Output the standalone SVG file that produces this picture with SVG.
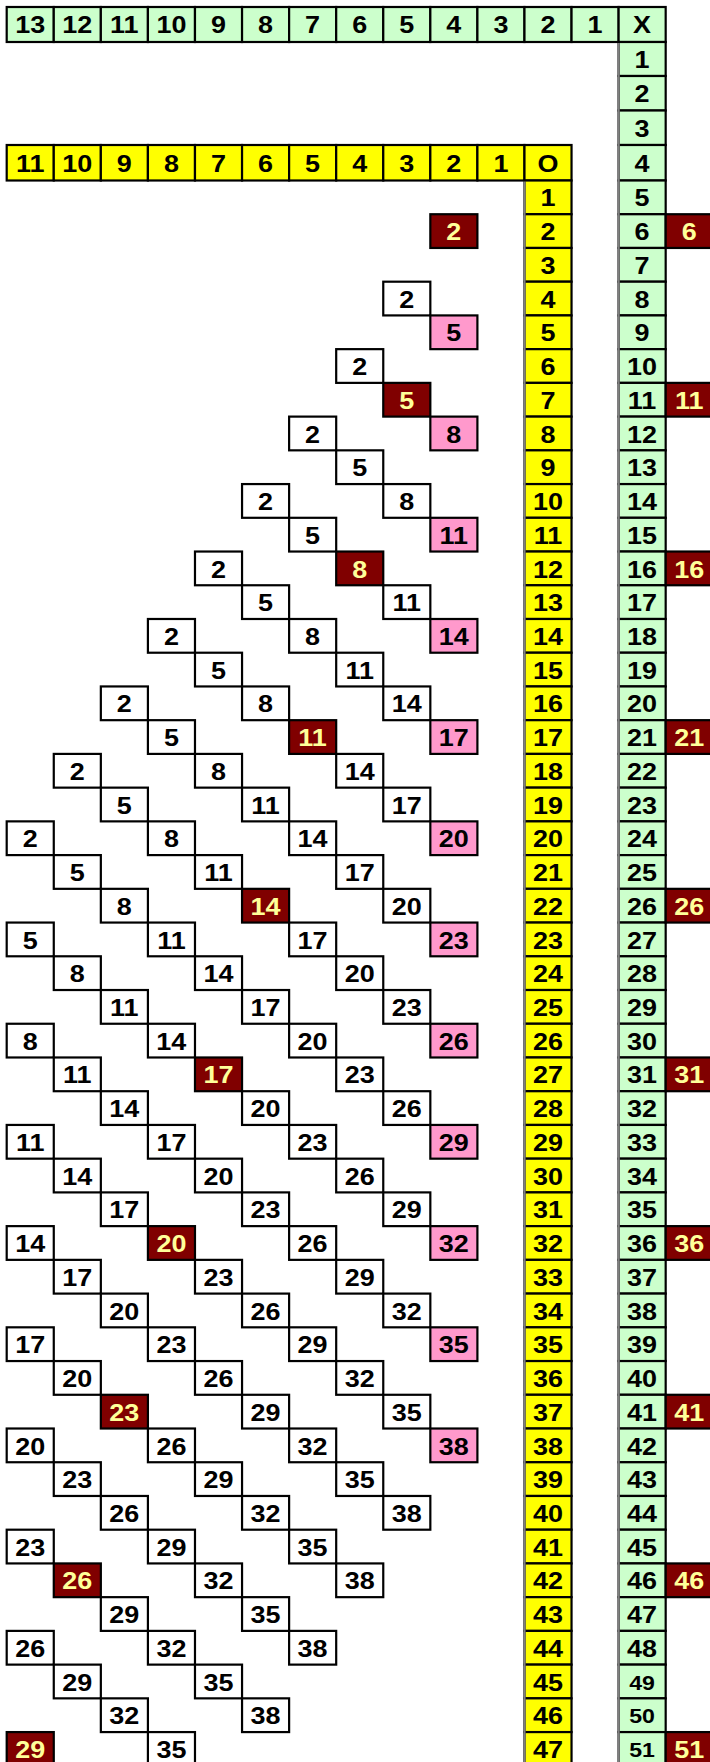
<svg xmlns="http://www.w3.org/2000/svg" width="710" height="1762" viewBox="0 0 710 1762">
<style>
g rect{stroke:#000;stroke-width:2.2}
.g rect{fill:#ccffcc}
.y rect{fill:#ffff00}
.w rect{fill:#ffffff}
.p rect{fill:#ff99cc}
.m rect{fill:#800000}
text{font-family:"Liberation Sans",Arial,sans-serif;font-weight:bold;font-size:24.5px;text-anchor:middle;fill:#000;transform-box:fill-box;transform-origin:center;transform:scaleX(1.1)}
.m text{fill:#ffff99}
.s text{font-size:21px}
.edge{stroke:#808080;stroke-width:2.2;fill:none}
</style>
<!-- green header row -->
<g id="green-header">
<g id="gh13" class="g" transform="translate(6.7,7)"><rect width="47.07" height="35"/><text x="23.5" y="26.4">13</text></g>
<g id="gh12" class="g" transform="translate(53.77,7)"><rect width="47.07" height="35"/><text x="23.5" y="26.4">12</text></g>
<g id="gh11" class="g" transform="translate(100.84,7)"><rect width="47.07" height="35"/><text x="23.5" y="26.4">11</text></g>
<g id="gh10" class="g" transform="translate(147.91,7)"><rect width="47.07" height="35"/><text x="23.5" y="26.4">10</text></g>
<g id="gh9" class="g" transform="translate(194.98,7)"><rect width="47.07" height="35"/><text x="23.5" y="26.4">9</text></g>
<g id="gh8" class="g" transform="translate(242.05,7)"><rect width="47.07" height="35"/><text x="23.5" y="26.4">8</text></g>
<g id="gh7" class="g" transform="translate(289.12,7)"><rect width="47.07" height="35"/><text x="23.5" y="26.4">7</text></g>
<g id="gh6" class="g" transform="translate(336.19,7)"><rect width="47.07" height="35"/><text x="23.5" y="26.4">6</text></g>
<g id="gh5" class="g" transform="translate(383.26,7)"><rect width="47.07" height="35"/><text x="23.5" y="26.4">5</text></g>
<g id="gh4" class="g" transform="translate(430.33,7)"><rect width="47.07" height="35"/><text x="23.5" y="26.4">4</text></g>
<g id="gh3" class="g" transform="translate(477.4,7)"><rect width="47.07" height="35"/><text x="23.5" y="26.4">3</text></g>
<g id="gh2" class="g" transform="translate(524.47,7)"><rect width="47.07" height="35"/><text x="23.5" y="26.4">2</text></g>
<g id="gh1" class="g" transform="translate(571.54,7)"><rect width="47.07" height="35"/><text x="23.5" y="26.4">1</text></g>
<g id="ghX" class="g" transform="translate(618.61,7)"><rect width="47.07" height="35"/><text x="23.5" y="26.4">X</text></g>
</g>
<!-- green column -->
<g id="green-column">
<g id="gx1" class="g" transform="translate(618.61,42)"><rect width="47.07" height="34"/><text x="23.5" y="25.9">1</text></g>
<g id="gx2" class="g" transform="translate(618.61,76)"><rect width="47.07" height="34.5"/><text x="23.5" y="26.1">2</text></g>
<g id="gx3" class="g" transform="translate(618.61,110.5)"><rect width="47.07" height="34.5"/><text x="23.5" y="26.1">3</text></g>
<g id="gx4" class="g" transform="translate(618.61,145)"><rect width="47.07" height="35.5"/><text x="23.5" y="26.6">4</text></g>
<g id="gx5" class="g" transform="translate(618.61,180.5)"><rect width="47.07" height="33.73"/><text x="23.5" y="26">5</text></g>
<g id="gx6" class="g" transform="translate(618.61,214.23)"><rect width="47.07" height="33.73"/><text x="23.5" y="26">6</text></g>
<g id="gx7" class="g" transform="translate(618.61,247.96)"><rect width="47.07" height="33.73"/><text x="23.5" y="26">7</text></g>
<g id="gx8" class="g" transform="translate(618.61,281.69)"><rect width="47.07" height="33.73"/><text x="23.5" y="26">8</text></g>
<g id="gx9" class="g" transform="translate(618.61,315.42)"><rect width="47.07" height="33.73"/><text x="23.5" y="26">9</text></g>
<g id="gx10" class="g" transform="translate(618.61,349.15)"><rect width="47.07" height="33.73"/><text x="23.5" y="26">10</text></g>
<g id="gx11" class="g" transform="translate(618.61,382.88)"><rect width="47.07" height="33.73"/><text x="23.5" y="26">11</text></g>
<g id="gx12" class="g" transform="translate(618.61,416.61)"><rect width="47.07" height="33.73"/><text x="23.5" y="26">12</text></g>
<g id="gx13" class="g" transform="translate(618.61,450.34)"><rect width="47.07" height="33.73"/><text x="23.5" y="26">13</text></g>
<g id="gx14" class="g" transform="translate(618.61,484.07)"><rect width="47.07" height="33.73"/><text x="23.5" y="26">14</text></g>
<g id="gx15" class="g" transform="translate(618.61,517.8)"><rect width="47.07" height="33.73"/><text x="23.5" y="26">15</text></g>
<g id="gx16" class="g" transform="translate(618.61,551.53)"><rect width="47.07" height="33.73"/><text x="23.5" y="26">16</text></g>
<g id="gx17" class="g" transform="translate(618.61,585.26)"><rect width="47.07" height="33.73"/><text x="23.5" y="26">17</text></g>
<g id="gx18" class="g" transform="translate(618.61,618.99)"><rect width="47.07" height="33.73"/><text x="23.5" y="26">18</text></g>
<g id="gx19" class="g" transform="translate(618.61,652.72)"><rect width="47.07" height="33.73"/><text x="23.5" y="26">19</text></g>
<g id="gx20" class="g" transform="translate(618.61,686.45)"><rect width="47.07" height="33.73"/><text x="23.5" y="26">20</text></g>
<g id="gx21" class="g" transform="translate(618.61,720.18)"><rect width="47.07" height="33.73"/><text x="23.5" y="26">21</text></g>
<g id="gx22" class="g" transform="translate(618.61,753.91)"><rect width="47.07" height="33.73"/><text x="23.5" y="26">22</text></g>
<g id="gx23" class="g" transform="translate(618.61,787.64)"><rect width="47.07" height="33.73"/><text x="23.5" y="26">23</text></g>
<g id="gx24" class="g" transform="translate(618.61,821.37)"><rect width="47.07" height="33.73"/><text x="23.5" y="26">24</text></g>
<g id="gx25" class="g" transform="translate(618.61,855.1)"><rect width="47.07" height="33.73"/><text x="23.5" y="26">25</text></g>
<g id="gx26" class="g" transform="translate(618.61,888.83)"><rect width="47.07" height="33.73"/><text x="23.5" y="26">26</text></g>
<g id="gx27" class="g" transform="translate(618.61,922.56)"><rect width="47.07" height="33.73"/><text x="23.5" y="26">27</text></g>
<g id="gx28" class="g" transform="translate(618.61,956.29)"><rect width="47.07" height="33.73"/><text x="23.5" y="26">28</text></g>
<g id="gx29" class="g" transform="translate(618.61,990.02)"><rect width="47.07" height="33.73"/><text x="23.5" y="26">29</text></g>
<g id="gx30" class="g" transform="translate(618.61,1023.75)"><rect width="47.07" height="33.73"/><text x="23.5" y="26">30</text></g>
<g id="gx31" class="g" transform="translate(618.61,1057.48)"><rect width="47.07" height="33.73"/><text x="23.5" y="26">31</text></g>
<g id="gx32" class="g" transform="translate(618.61,1091.21)"><rect width="47.07" height="33.73"/><text x="23.5" y="26">32</text></g>
<g id="gx33" class="g" transform="translate(618.61,1124.94)"><rect width="47.07" height="33.73"/><text x="23.5" y="26">33</text></g>
<g id="gx34" class="g" transform="translate(618.61,1158.67)"><rect width="47.07" height="33.73"/><text x="23.5" y="26">34</text></g>
<g id="gx35" class="g" transform="translate(618.61,1192.4)"><rect width="47.07" height="33.73"/><text x="23.5" y="26">35</text></g>
<g id="gx36" class="g" transform="translate(618.61,1226.13)"><rect width="47.07" height="33.73"/><text x="23.5" y="26">36</text></g>
<g id="gx37" class="g" transform="translate(618.61,1259.86)"><rect width="47.07" height="33.73"/><text x="23.5" y="26">37</text></g>
<g id="gx38" class="g" transform="translate(618.61,1293.59)"><rect width="47.07" height="33.73"/><text x="23.5" y="26">38</text></g>
<g id="gx39" class="g" transform="translate(618.61,1327.32)"><rect width="47.07" height="33.73"/><text x="23.5" y="26">39</text></g>
<g id="gx40" class="g" transform="translate(618.61,1361.05)"><rect width="47.07" height="33.73"/><text x="23.5" y="26">40</text></g>
<g id="gx41" class="g" transform="translate(618.61,1394.78)"><rect width="47.07" height="33.73"/><text x="23.5" y="26">41</text></g>
<g id="gx42" class="g" transform="translate(618.61,1428.51)"><rect width="47.07" height="33.73"/><text x="23.5" y="26">42</text></g>
<g id="gx43" class="g" transform="translate(618.61,1462.24)"><rect width="47.07" height="33.73"/><text x="23.5" y="26">43</text></g>
<g id="gx44" class="g" transform="translate(618.61,1495.97)"><rect width="47.07" height="33.73"/><text x="23.5" y="26">44</text></g>
<g id="gx45" class="g" transform="translate(618.61,1529.7)"><rect width="47.07" height="33.73"/><text x="23.5" y="26">45</text></g>
<g id="gx46" class="g" transform="translate(618.61,1563.43)"><rect width="47.07" height="33.73"/><text x="23.5" y="26">46</text></g>
<g id="gx47" class="g" transform="translate(618.61,1597.16)"><rect width="47.07" height="33.73"/><text x="23.5" y="26">47</text></g>
<g id="gx48" class="g" transform="translate(618.61,1630.89)"><rect width="47.07" height="33.73"/><text x="23.5" y="26">48</text></g>
<g id="gx49" class="g s" transform="translate(618.61,1664.62)"><rect width="47.07" height="33.73"/><text x="23.5" y="25">49</text></g>
<g id="gx50" class="g s" transform="translate(618.61,1698.35)"><rect width="47.07" height="33.73"/><text x="23.5" y="25">50</text></g>
<g id="gx51" class="g s" transform="translate(618.61,1732.08)"><rect width="47.07" height="33.73"/><text x="23.5" y="25">51</text></g>
</g>
<!-- right maroon column -->
<g id="right-column">
<g id="r6" class="m" transform="translate(665.68,214.23)"><rect width="47.07" height="33.73"/><text x="23.5" y="26">6</text></g>
<g id="r11" class="m" transform="translate(665.68,382.88)"><rect width="47.07" height="33.73"/><text x="23.5" y="26">11</text></g>
<g id="r16" class="m" transform="translate(665.68,551.53)"><rect width="47.07" height="33.73"/><text x="23.5" y="26">16</text></g>
<g id="r21" class="m" transform="translate(665.68,720.18)"><rect width="47.07" height="33.73"/><text x="23.5" y="26">21</text></g>
<g id="r26" class="m" transform="translate(665.68,888.83)"><rect width="47.07" height="33.73"/><text x="23.5" y="26">26</text></g>
<g id="r31" class="m" transform="translate(665.68,1057.48)"><rect width="47.07" height="33.73"/><text x="23.5" y="26">31</text></g>
<g id="r36" class="m" transform="translate(665.68,1226.13)"><rect width="47.07" height="33.73"/><text x="23.5" y="26">36</text></g>
<g id="r41" class="m" transform="translate(665.68,1394.78)"><rect width="47.07" height="33.73"/><text x="23.5" y="26">41</text></g>
<g id="r46" class="m" transform="translate(665.68,1563.43)"><rect width="47.07" height="33.73"/><text x="23.5" y="26">46</text></g>
<g id="r51" class="m" transform="translate(665.68,1732.08)"><rect width="47.07" height="33.73"/><text x="23.5" y="26">51</text></g>
</g>
<!-- yellow header row -->
<g id="yellow-header">
<g id="yh11" class="y" transform="translate(6.7,145)"><rect width="47.07" height="35.5"/><text x="23.5" y="26.6">11</text></g>
<g id="yh10" class="y" transform="translate(53.77,145)"><rect width="47.07" height="35.5"/><text x="23.5" y="26.6">10</text></g>
<g id="yh9" class="y" transform="translate(100.84,145)"><rect width="47.07" height="35.5"/><text x="23.5" y="26.6">9</text></g>
<g id="yh8" class="y" transform="translate(147.91,145)"><rect width="47.07" height="35.5"/><text x="23.5" y="26.6">8</text></g>
<g id="yh7" class="y" transform="translate(194.98,145)"><rect width="47.07" height="35.5"/><text x="23.5" y="26.6">7</text></g>
<g id="yh6" class="y" transform="translate(242.05,145)"><rect width="47.07" height="35.5"/><text x="23.5" y="26.6">6</text></g>
<g id="yh5" class="y" transform="translate(289.12,145)"><rect width="47.07" height="35.5"/><text x="23.5" y="26.6">5</text></g>
<g id="yh4" class="y" transform="translate(336.19,145)"><rect width="47.07" height="35.5"/><text x="23.5" y="26.6">4</text></g>
<g id="yh3" class="y" transform="translate(383.26,145)"><rect width="47.07" height="35.5"/><text x="23.5" y="26.6">3</text></g>
<g id="yh2" class="y" transform="translate(430.33,145)"><rect width="47.07" height="35.5"/><text x="23.5" y="26.6">2</text></g>
<g id="yh1" class="y" transform="translate(477.4,145)"><rect width="47.07" height="35.5"/><text x="23.5" y="26.6">1</text></g>
<g id="yhO" class="y" transform="translate(524.47,145)"><rect width="47.07" height="35.5"/><text x="23.5" y="26.6">O</text></g>
</g>
<!-- yellow column -->
<g id="yellow-column">
<g id="yo1" class="y" transform="translate(524.47,180.5)"><rect width="47.07" height="33.73"/><text x="23.5" y="26">1</text></g>
<g id="yo2" class="y" transform="translate(524.47,214.23)"><rect width="47.07" height="33.73"/><text x="23.5" y="26">2</text></g>
<g id="yo3" class="y" transform="translate(524.47,247.96)"><rect width="47.07" height="33.73"/><text x="23.5" y="26">3</text></g>
<g id="yo4" class="y" transform="translate(524.47,281.69)"><rect width="47.07" height="33.73"/><text x="23.5" y="26">4</text></g>
<g id="yo5" class="y" transform="translate(524.47,315.42)"><rect width="47.07" height="33.73"/><text x="23.5" y="26">5</text></g>
<g id="yo6" class="y" transform="translate(524.47,349.15)"><rect width="47.07" height="33.73"/><text x="23.5" y="26">6</text></g>
<g id="yo7" class="y" transform="translate(524.47,382.88)"><rect width="47.07" height="33.73"/><text x="23.5" y="26">7</text></g>
<g id="yo8" class="y" transform="translate(524.47,416.61)"><rect width="47.07" height="33.73"/><text x="23.5" y="26">8</text></g>
<g id="yo9" class="y" transform="translate(524.47,450.34)"><rect width="47.07" height="33.73"/><text x="23.5" y="26">9</text></g>
<g id="yo10" class="y" transform="translate(524.47,484.07)"><rect width="47.07" height="33.73"/><text x="23.5" y="26">10</text></g>
<g id="yo11" class="y" transform="translate(524.47,517.8)"><rect width="47.07" height="33.73"/><text x="23.5" y="26">11</text></g>
<g id="yo12" class="y" transform="translate(524.47,551.53)"><rect width="47.07" height="33.73"/><text x="23.5" y="26">12</text></g>
<g id="yo13" class="y" transform="translate(524.47,585.26)"><rect width="47.07" height="33.73"/><text x="23.5" y="26">13</text></g>
<g id="yo14" class="y" transform="translate(524.47,618.99)"><rect width="47.07" height="33.73"/><text x="23.5" y="26">14</text></g>
<g id="yo15" class="y" transform="translate(524.47,652.72)"><rect width="47.07" height="33.73"/><text x="23.5" y="26">15</text></g>
<g id="yo16" class="y" transform="translate(524.47,686.45)"><rect width="47.07" height="33.73"/><text x="23.5" y="26">16</text></g>
<g id="yo17" class="y" transform="translate(524.47,720.18)"><rect width="47.07" height="33.73"/><text x="23.5" y="26">17</text></g>
<g id="yo18" class="y" transform="translate(524.47,753.91)"><rect width="47.07" height="33.73"/><text x="23.5" y="26">18</text></g>
<g id="yo19" class="y" transform="translate(524.47,787.64)"><rect width="47.07" height="33.73"/><text x="23.5" y="26">19</text></g>
<g id="yo20" class="y" transform="translate(524.47,821.37)"><rect width="47.07" height="33.73"/><text x="23.5" y="26">20</text></g>
<g id="yo21" class="y" transform="translate(524.47,855.1)"><rect width="47.07" height="33.73"/><text x="23.5" y="26">21</text></g>
<g id="yo22" class="y" transform="translate(524.47,888.83)"><rect width="47.07" height="33.73"/><text x="23.5" y="26">22</text></g>
<g id="yo23" class="y" transform="translate(524.47,922.56)"><rect width="47.07" height="33.73"/><text x="23.5" y="26">23</text></g>
<g id="yo24" class="y" transform="translate(524.47,956.29)"><rect width="47.07" height="33.73"/><text x="23.5" y="26">24</text></g>
<g id="yo25" class="y" transform="translate(524.47,990.02)"><rect width="47.07" height="33.73"/><text x="23.5" y="26">25</text></g>
<g id="yo26" class="y" transform="translate(524.47,1023.75)"><rect width="47.07" height="33.73"/><text x="23.5" y="26">26</text></g>
<g id="yo27" class="y" transform="translate(524.47,1057.48)"><rect width="47.07" height="33.73"/><text x="23.5" y="26">27</text></g>
<g id="yo28" class="y" transform="translate(524.47,1091.21)"><rect width="47.07" height="33.73"/><text x="23.5" y="26">28</text></g>
<g id="yo29" class="y" transform="translate(524.47,1124.94)"><rect width="47.07" height="33.73"/><text x="23.5" y="26">29</text></g>
<g id="yo30" class="y" transform="translate(524.47,1158.67)"><rect width="47.07" height="33.73"/><text x="23.5" y="26">30</text></g>
<g id="yo31" class="y" transform="translate(524.47,1192.4)"><rect width="47.07" height="33.73"/><text x="23.5" y="26">31</text></g>
<g id="yo32" class="y" transform="translate(524.47,1226.13)"><rect width="47.07" height="33.73"/><text x="23.5" y="26">32</text></g>
<g id="yo33" class="y" transform="translate(524.47,1259.86)"><rect width="47.07" height="33.73"/><text x="23.5" y="26">33</text></g>
<g id="yo34" class="y" transform="translate(524.47,1293.59)"><rect width="47.07" height="33.73"/><text x="23.5" y="26">34</text></g>
<g id="yo35" class="y" transform="translate(524.47,1327.32)"><rect width="47.07" height="33.73"/><text x="23.5" y="26">35</text></g>
<g id="yo36" class="y" transform="translate(524.47,1361.05)"><rect width="47.07" height="33.73"/><text x="23.5" y="26">36</text></g>
<g id="yo37" class="y" transform="translate(524.47,1394.78)"><rect width="47.07" height="33.73"/><text x="23.5" y="26">37</text></g>
<g id="yo38" class="y" transform="translate(524.47,1428.51)"><rect width="47.07" height="33.73"/><text x="23.5" y="26">38</text></g>
<g id="yo39" class="y" transform="translate(524.47,1462.24)"><rect width="47.07" height="33.73"/><text x="23.5" y="26">39</text></g>
<g id="yo40" class="y" transform="translate(524.47,1495.97)"><rect width="47.07" height="33.73"/><text x="23.5" y="26">40</text></g>
<g id="yo41" class="y" transform="translate(524.47,1529.7)"><rect width="47.07" height="33.73"/><text x="23.5" y="26">41</text></g>
<g id="yo42" class="y" transform="translate(524.47,1563.43)"><rect width="47.07" height="33.73"/><text x="23.5" y="26">42</text></g>
<g id="yo43" class="y" transform="translate(524.47,1597.16)"><rect width="47.07" height="33.73"/><text x="23.5" y="26">43</text></g>
<g id="yo44" class="y" transform="translate(524.47,1630.89)"><rect width="47.07" height="33.73"/><text x="23.5" y="26">44</text></g>
<g id="yo45" class="y" transform="translate(524.47,1664.62)"><rect width="47.07" height="33.73"/><text x="23.5" y="26">45</text></g>
<g id="yo46" class="y" transform="translate(524.47,1698.35)"><rect width="47.07" height="33.73"/><text x="23.5" y="26">46</text></g>
<g id="yo47" class="y" transform="translate(524.47,1732.08)"><rect width="47.07" height="33.73"/><text x="23.5" y="26">47</text></g>
</g>
<!-- column left shading -->
<g id="edges">
<line class="edge" x1="524.47" y1="181.6" x2="524.47" y2="1762"/>
<line class="edge" x1="618.61" y1="43.1" x2="618.61" y2="1762"/>
</g>
<!-- staircase cells -->
<g id="staircase">
<g id="s2-9" class="m" transform="translate(430.33,214.23)"><rect width="47.07" height="33.73"/><text x="23.5" y="26">2</text></g>
<g id="s4-8" class="w" transform="translate(383.26,281.69)"><rect width="47.07" height="33.73"/><text x="23.5" y="26">2</text></g>
<g id="s5-9" class="p" transform="translate(430.33,315.42)"><rect width="47.07" height="33.73"/><text x="23.5" y="26">5</text></g>
<g id="s6-7" class="w" transform="translate(336.19,349.15)"><rect width="47.07" height="33.73"/><text x="23.5" y="26">2</text></g>
<g id="s7-8" class="m" transform="translate(383.26,382.88)"><rect width="47.07" height="33.73"/><text x="23.5" y="26">5</text></g>
<g id="s8-6" class="w" transform="translate(289.12,416.61)"><rect width="47.07" height="33.73"/><text x="23.5" y="26">2</text></g>
<g id="s8-9" class="p" transform="translate(430.33,416.61)"><rect width="47.07" height="33.73"/><text x="23.5" y="26">8</text></g>
<g id="s9-7" class="w" transform="translate(336.19,450.34)"><rect width="47.07" height="33.73"/><text x="23.5" y="26">5</text></g>
<g id="s10-5" class="w" transform="translate(242.05,484.07)"><rect width="47.07" height="33.73"/><text x="23.5" y="26">2</text></g>
<g id="s10-8" class="w" transform="translate(383.26,484.07)"><rect width="47.07" height="33.73"/><text x="23.5" y="26">8</text></g>
<g id="s11-6" class="w" transform="translate(289.12,517.8)"><rect width="47.07" height="33.73"/><text x="23.5" y="26">5</text></g>
<g id="s11-9" class="p" transform="translate(430.33,517.8)"><rect width="47.07" height="33.73"/><text x="23.5" y="26">11</text></g>
<g id="s12-4" class="w" transform="translate(194.98,551.53)"><rect width="47.07" height="33.73"/><text x="23.5" y="26">2</text></g>
<g id="s12-7" class="m" transform="translate(336.19,551.53)"><rect width="47.07" height="33.73"/><text x="23.5" y="26">8</text></g>
<g id="s13-5" class="w" transform="translate(242.05,585.26)"><rect width="47.07" height="33.73"/><text x="23.5" y="26">5</text></g>
<g id="s13-8" class="w" transform="translate(383.26,585.26)"><rect width="47.07" height="33.73"/><text x="23.5" y="26">11</text></g>
<g id="s14-3" class="w" transform="translate(147.91,618.99)"><rect width="47.07" height="33.73"/><text x="23.5" y="26">2</text></g>
<g id="s14-6" class="w" transform="translate(289.12,618.99)"><rect width="47.07" height="33.73"/><text x="23.5" y="26">8</text></g>
<g id="s14-9" class="p" transform="translate(430.33,618.99)"><rect width="47.07" height="33.73"/><text x="23.5" y="26">14</text></g>
<g id="s15-4" class="w" transform="translate(194.98,652.72)"><rect width="47.07" height="33.73"/><text x="23.5" y="26">5</text></g>
<g id="s15-7" class="w" transform="translate(336.19,652.72)"><rect width="47.07" height="33.73"/><text x="23.5" y="26">11</text></g>
<g id="s16-2" class="w" transform="translate(100.84,686.45)"><rect width="47.07" height="33.73"/><text x="23.5" y="26">2</text></g>
<g id="s16-5" class="w" transform="translate(242.05,686.45)"><rect width="47.07" height="33.73"/><text x="23.5" y="26">8</text></g>
<g id="s16-8" class="w" transform="translate(383.26,686.45)"><rect width="47.07" height="33.73"/><text x="23.5" y="26">14</text></g>
<g id="s17-3" class="w" transform="translate(147.91,720.18)"><rect width="47.07" height="33.73"/><text x="23.5" y="26">5</text></g>
<g id="s17-6" class="m" transform="translate(289.12,720.18)"><rect width="47.07" height="33.73"/><text x="23.5" y="26">11</text></g>
<g id="s17-9" class="p" transform="translate(430.33,720.18)"><rect width="47.07" height="33.73"/><text x="23.5" y="26">17</text></g>
<g id="s18-1" class="w" transform="translate(53.77,753.91)"><rect width="47.07" height="33.73"/><text x="23.5" y="26">2</text></g>
<g id="s18-4" class="w" transform="translate(194.98,753.91)"><rect width="47.07" height="33.73"/><text x="23.5" y="26">8</text></g>
<g id="s18-7" class="w" transform="translate(336.19,753.91)"><rect width="47.07" height="33.73"/><text x="23.5" y="26">14</text></g>
<g id="s19-2" class="w" transform="translate(100.84,787.64)"><rect width="47.07" height="33.73"/><text x="23.5" y="26">5</text></g>
<g id="s19-5" class="w" transform="translate(242.05,787.64)"><rect width="47.07" height="33.73"/><text x="23.5" y="26">11</text></g>
<g id="s19-8" class="w" transform="translate(383.26,787.64)"><rect width="47.07" height="33.73"/><text x="23.5" y="26">17</text></g>
<g id="s20-0" class="w" transform="translate(6.7,821.37)"><rect width="47.07" height="33.73"/><text x="23.5" y="26">2</text></g>
<g id="s20-3" class="w" transform="translate(147.91,821.37)"><rect width="47.07" height="33.73"/><text x="23.5" y="26">8</text></g>
<g id="s20-6" class="w" transform="translate(289.12,821.37)"><rect width="47.07" height="33.73"/><text x="23.5" y="26">14</text></g>
<g id="s20-9" class="p" transform="translate(430.33,821.37)"><rect width="47.07" height="33.73"/><text x="23.5" y="26">20</text></g>
<g id="s21-1" class="w" transform="translate(53.77,855.1)"><rect width="47.07" height="33.73"/><text x="23.5" y="26">5</text></g>
<g id="s21-4" class="w" transform="translate(194.98,855.1)"><rect width="47.07" height="33.73"/><text x="23.5" y="26">11</text></g>
<g id="s21-7" class="w" transform="translate(336.19,855.1)"><rect width="47.07" height="33.73"/><text x="23.5" y="26">17</text></g>
<g id="s22-2" class="w" transform="translate(100.84,888.83)"><rect width="47.07" height="33.73"/><text x="23.5" y="26">8</text></g>
<g id="s22-5" class="m" transform="translate(242.05,888.83)"><rect width="47.07" height="33.73"/><text x="23.5" y="26">14</text></g>
<g id="s22-8" class="w" transform="translate(383.26,888.83)"><rect width="47.07" height="33.73"/><text x="23.5" y="26">20</text></g>
<g id="s23-0" class="w" transform="translate(6.7,922.56)"><rect width="47.07" height="33.73"/><text x="23.5" y="26">5</text></g>
<g id="s23-3" class="w" transform="translate(147.91,922.56)"><rect width="47.07" height="33.73"/><text x="23.5" y="26">11</text></g>
<g id="s23-6" class="w" transform="translate(289.12,922.56)"><rect width="47.07" height="33.73"/><text x="23.5" y="26">17</text></g>
<g id="s23-9" class="p" transform="translate(430.33,922.56)"><rect width="47.07" height="33.73"/><text x="23.5" y="26">23</text></g>
<g id="s24-1" class="w" transform="translate(53.77,956.29)"><rect width="47.07" height="33.73"/><text x="23.5" y="26">8</text></g>
<g id="s24-4" class="w" transform="translate(194.98,956.29)"><rect width="47.07" height="33.73"/><text x="23.5" y="26">14</text></g>
<g id="s24-7" class="w" transform="translate(336.19,956.29)"><rect width="47.07" height="33.73"/><text x="23.5" y="26">20</text></g>
<g id="s25-2" class="w" transform="translate(100.84,990.02)"><rect width="47.07" height="33.73"/><text x="23.5" y="26">11</text></g>
<g id="s25-5" class="w" transform="translate(242.05,990.02)"><rect width="47.07" height="33.73"/><text x="23.5" y="26">17</text></g>
<g id="s25-8" class="w" transform="translate(383.26,990.02)"><rect width="47.07" height="33.73"/><text x="23.5" y="26">23</text></g>
<g id="s26-0" class="w" transform="translate(6.7,1023.75)"><rect width="47.07" height="33.73"/><text x="23.5" y="26">8</text></g>
<g id="s26-3" class="w" transform="translate(147.91,1023.75)"><rect width="47.07" height="33.73"/><text x="23.5" y="26">14</text></g>
<g id="s26-6" class="w" transform="translate(289.12,1023.75)"><rect width="47.07" height="33.73"/><text x="23.5" y="26">20</text></g>
<g id="s26-9" class="p" transform="translate(430.33,1023.75)"><rect width="47.07" height="33.73"/><text x="23.5" y="26">26</text></g>
<g id="s27-1" class="w" transform="translate(53.77,1057.48)"><rect width="47.07" height="33.73"/><text x="23.5" y="26">11</text></g>
<g id="s27-4" class="m" transform="translate(194.98,1057.48)"><rect width="47.07" height="33.73"/><text x="23.5" y="26">17</text></g>
<g id="s27-7" class="w" transform="translate(336.19,1057.48)"><rect width="47.07" height="33.73"/><text x="23.5" y="26">23</text></g>
<g id="s28-2" class="w" transform="translate(100.84,1091.21)"><rect width="47.07" height="33.73"/><text x="23.5" y="26">14</text></g>
<g id="s28-5" class="w" transform="translate(242.05,1091.21)"><rect width="47.07" height="33.73"/><text x="23.5" y="26">20</text></g>
<g id="s28-8" class="w" transform="translate(383.26,1091.21)"><rect width="47.07" height="33.73"/><text x="23.5" y="26">26</text></g>
<g id="s29-0" class="w" transform="translate(6.7,1124.94)"><rect width="47.07" height="33.73"/><text x="23.5" y="26">11</text></g>
<g id="s29-3" class="w" transform="translate(147.91,1124.94)"><rect width="47.07" height="33.73"/><text x="23.5" y="26">17</text></g>
<g id="s29-6" class="w" transform="translate(289.12,1124.94)"><rect width="47.07" height="33.73"/><text x="23.5" y="26">23</text></g>
<g id="s29-9" class="p" transform="translate(430.33,1124.94)"><rect width="47.07" height="33.73"/><text x="23.5" y="26">29</text></g>
<g id="s30-1" class="w" transform="translate(53.77,1158.67)"><rect width="47.07" height="33.73"/><text x="23.5" y="26">14</text></g>
<g id="s30-4" class="w" transform="translate(194.98,1158.67)"><rect width="47.07" height="33.73"/><text x="23.5" y="26">20</text></g>
<g id="s30-7" class="w" transform="translate(336.19,1158.67)"><rect width="47.07" height="33.73"/><text x="23.5" y="26">26</text></g>
<g id="s31-2" class="w" transform="translate(100.84,1192.4)"><rect width="47.07" height="33.73"/><text x="23.5" y="26">17</text></g>
<g id="s31-5" class="w" transform="translate(242.05,1192.4)"><rect width="47.07" height="33.73"/><text x="23.5" y="26">23</text></g>
<g id="s31-8" class="w" transform="translate(383.26,1192.4)"><rect width="47.07" height="33.73"/><text x="23.5" y="26">29</text></g>
<g id="s32-0" class="w" transform="translate(6.7,1226.13)"><rect width="47.07" height="33.73"/><text x="23.5" y="26">14</text></g>
<g id="s32-3" class="m" transform="translate(147.91,1226.13)"><rect width="47.07" height="33.73"/><text x="23.5" y="26">20</text></g>
<g id="s32-6" class="w" transform="translate(289.12,1226.13)"><rect width="47.07" height="33.73"/><text x="23.5" y="26">26</text></g>
<g id="s32-9" class="p" transform="translate(430.33,1226.13)"><rect width="47.07" height="33.73"/><text x="23.5" y="26">32</text></g>
<g id="s33-1" class="w" transform="translate(53.77,1259.86)"><rect width="47.07" height="33.73"/><text x="23.5" y="26">17</text></g>
<g id="s33-4" class="w" transform="translate(194.98,1259.86)"><rect width="47.07" height="33.73"/><text x="23.5" y="26">23</text></g>
<g id="s33-7" class="w" transform="translate(336.19,1259.86)"><rect width="47.07" height="33.73"/><text x="23.5" y="26">29</text></g>
<g id="s34-2" class="w" transform="translate(100.84,1293.59)"><rect width="47.07" height="33.73"/><text x="23.5" y="26">20</text></g>
<g id="s34-5" class="w" transform="translate(242.05,1293.59)"><rect width="47.07" height="33.73"/><text x="23.5" y="26">26</text></g>
<g id="s34-8" class="w" transform="translate(383.26,1293.59)"><rect width="47.07" height="33.73"/><text x="23.5" y="26">32</text></g>
<g id="s35-0" class="w" transform="translate(6.7,1327.32)"><rect width="47.07" height="33.73"/><text x="23.5" y="26">17</text></g>
<g id="s35-3" class="w" transform="translate(147.91,1327.32)"><rect width="47.07" height="33.73"/><text x="23.5" y="26">23</text></g>
<g id="s35-6" class="w" transform="translate(289.12,1327.32)"><rect width="47.07" height="33.73"/><text x="23.5" y="26">29</text></g>
<g id="s35-9" class="p" transform="translate(430.33,1327.32)"><rect width="47.07" height="33.73"/><text x="23.5" y="26">35</text></g>
<g id="s36-1" class="w" transform="translate(53.77,1361.05)"><rect width="47.07" height="33.73"/><text x="23.5" y="26">20</text></g>
<g id="s36-4" class="w" transform="translate(194.98,1361.05)"><rect width="47.07" height="33.73"/><text x="23.5" y="26">26</text></g>
<g id="s36-7" class="w" transform="translate(336.19,1361.05)"><rect width="47.07" height="33.73"/><text x="23.5" y="26">32</text></g>
<g id="s37-2" class="m" transform="translate(100.84,1394.78)"><rect width="47.07" height="33.73"/><text x="23.5" y="26">23</text></g>
<g id="s37-5" class="w" transform="translate(242.05,1394.78)"><rect width="47.07" height="33.73"/><text x="23.5" y="26">29</text></g>
<g id="s37-8" class="w" transform="translate(383.26,1394.78)"><rect width="47.07" height="33.73"/><text x="23.5" y="26">35</text></g>
<g id="s38-0" class="w" transform="translate(6.7,1428.51)"><rect width="47.07" height="33.73"/><text x="23.5" y="26">20</text></g>
<g id="s38-3" class="w" transform="translate(147.91,1428.51)"><rect width="47.07" height="33.73"/><text x="23.5" y="26">26</text></g>
<g id="s38-6" class="w" transform="translate(289.12,1428.51)"><rect width="47.07" height="33.73"/><text x="23.5" y="26">32</text></g>
<g id="s38-9" class="p" transform="translate(430.33,1428.51)"><rect width="47.07" height="33.73"/><text x="23.5" y="26">38</text></g>
<g id="s39-1" class="w" transform="translate(53.77,1462.24)"><rect width="47.07" height="33.73"/><text x="23.5" y="26">23</text></g>
<g id="s39-4" class="w" transform="translate(194.98,1462.24)"><rect width="47.07" height="33.73"/><text x="23.5" y="26">29</text></g>
<g id="s39-7" class="w" transform="translate(336.19,1462.24)"><rect width="47.07" height="33.73"/><text x="23.5" y="26">35</text></g>
<g id="s40-2" class="w" transform="translate(100.84,1495.97)"><rect width="47.07" height="33.73"/><text x="23.5" y="26">26</text></g>
<g id="s40-5" class="w" transform="translate(242.05,1495.97)"><rect width="47.07" height="33.73"/><text x="23.5" y="26">32</text></g>
<g id="s40-8" class="w" transform="translate(383.26,1495.97)"><rect width="47.07" height="33.73"/><text x="23.5" y="26">38</text></g>
<g id="s41-0" class="w" transform="translate(6.7,1529.7)"><rect width="47.07" height="33.73"/><text x="23.5" y="26">23</text></g>
<g id="s41-3" class="w" transform="translate(147.91,1529.7)"><rect width="47.07" height="33.73"/><text x="23.5" y="26">29</text></g>
<g id="s41-6" class="w" transform="translate(289.12,1529.7)"><rect width="47.07" height="33.73"/><text x="23.5" y="26">35</text></g>
<g id="s42-1" class="m" transform="translate(53.77,1563.43)"><rect width="47.07" height="33.73"/><text x="23.5" y="26">26</text></g>
<g id="s42-4" class="w" transform="translate(194.98,1563.43)"><rect width="47.07" height="33.73"/><text x="23.5" y="26">32</text></g>
<g id="s42-7" class="w" transform="translate(336.19,1563.43)"><rect width="47.07" height="33.73"/><text x="23.5" y="26">38</text></g>
<g id="s43-2" class="w" transform="translate(100.84,1597.16)"><rect width="47.07" height="33.73"/><text x="23.5" y="26">29</text></g>
<g id="s43-5" class="w" transform="translate(242.05,1597.16)"><rect width="47.07" height="33.73"/><text x="23.5" y="26">35</text></g>
<g id="s44-0" class="w" transform="translate(6.7,1630.89)"><rect width="47.07" height="33.73"/><text x="23.5" y="26">26</text></g>
<g id="s44-3" class="w" transform="translate(147.91,1630.89)"><rect width="47.07" height="33.73"/><text x="23.5" y="26">32</text></g>
<g id="s44-6" class="w" transform="translate(289.12,1630.89)"><rect width="47.07" height="33.73"/><text x="23.5" y="26">38</text></g>
<g id="s45-1" class="w" transform="translate(53.77,1664.62)"><rect width="47.07" height="33.73"/><text x="23.5" y="26">29</text></g>
<g id="s45-4" class="w" transform="translate(194.98,1664.62)"><rect width="47.07" height="33.73"/><text x="23.5" y="26">35</text></g>
<g id="s46-2" class="w" transform="translate(100.84,1698.35)"><rect width="47.07" height="33.73"/><text x="23.5" y="26">32</text></g>
<g id="s46-5" class="w" transform="translate(242.05,1698.35)"><rect width="47.07" height="33.73"/><text x="23.5" y="26">38</text></g>
<g id="s47-0" class="m" transform="translate(6.7,1732.08)"><rect width="47.07" height="33.73"/><text x="23.5" y="26">29</text></g>
<g id="s47-3" class="w" transform="translate(147.91,1732.08)"><rect width="47.07" height="33.73"/><text x="23.5" y="26">35</text></g>
</g>
</svg>
